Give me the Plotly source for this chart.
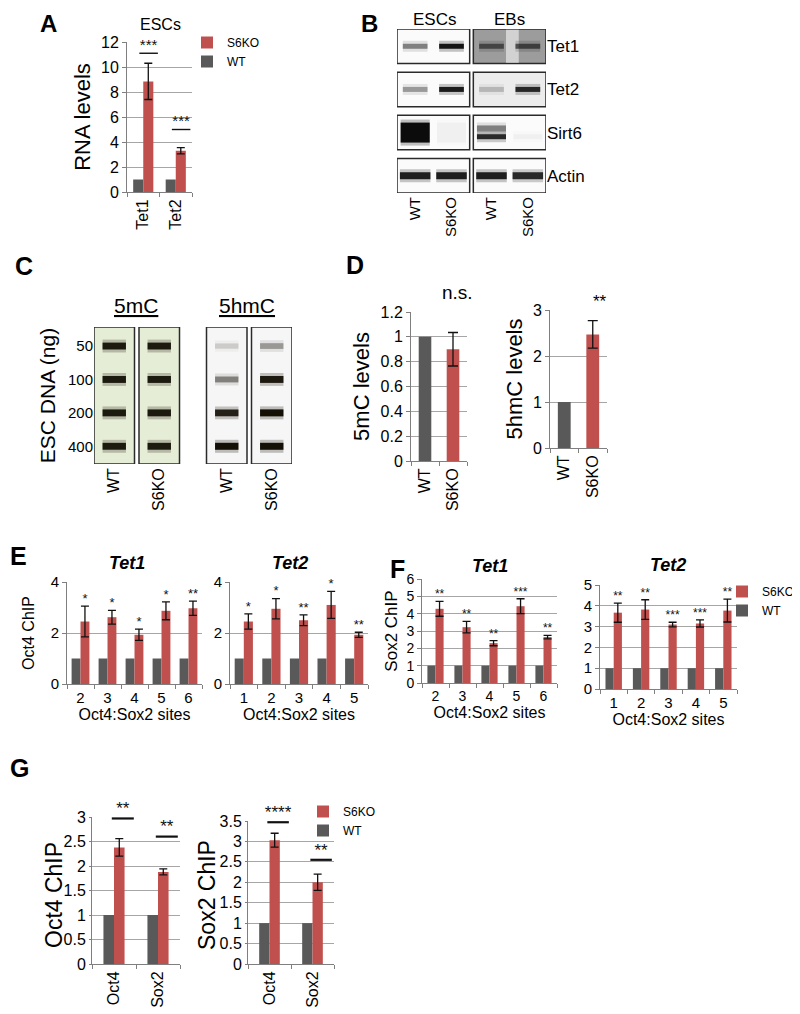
import plotly.graph_objects as go

W, H = 800, 1014
OFF = 8  # page body margin that shifts the whole figure
RED = "#c0504d"
GRAY = "#595959"
GRID = "#a6a6a6"
AXIS = "#7f7f7f"
INK = "#111111"
FONT = "Arial, Liberation Sans, sans-serif"

# ── A: Tet mRNA in ESCs ─────────────────────────────────────────
a_genes = ["Tet1", "Tet2"]
a_wt = [1, 1]
a_ko = [8.85, 3.3]
a_err = [1.45, 0.25]
a_sig = ["***", "***"]
a_sig_y = [11.1, 5.0]

# ── B: western blots (band darkness 0..1) ───────────────────────
b_groups = ["ESCs", "EBs"]
b_lanes = ["WT", "S6KO", "WT", "S6KO"]
b_proteins = ["Tet1", "Tet2", "Sirt6", "Actin"]
b_tet1 = [0.45, 0.95, 0.55, 0.6]
b_tet2 = [0.35, 0.92, 0.2, 0.85]
b_sirt6 = [1.0, 0.03, 0.85, 0.03]
b_sirt6_upper = [0.0, 0.0, 0.45, 0.0]
b_actin = [0.9, 0.9, 0.9, 0.85]

# ── C: slot blots (signal darkness 0..1) ────────────────────────
c_amount = ["50", "100", "200", "400"]
c_lanes = ["WT", "S6KO", "WT", "S6KO"]
c_5mc_wt = [0.95, 0.95, 0.95, 0.95]
c_5mc_ko = [0.95, 0.95, 0.95, 0.95]
c_5hmc_wt = [0.15, 0.45, 0.9, 1.0]
c_5hmc_ko = [0.35, 0.95, 1.0, 1.0]

# ── D: global 5mC / 5hmC ────────────────────────────────────────
d_groups = ["WT", "S6KO"]
d_5mc = [1.0, 0.9]
d_5mc_err = [0.135]
d_5hmc = [1.0, 2.47]
d_5hmc_err = [0.3]

# ── E: Oct4 ChIP at Tet promoters ───────────────────────────────
e_tet1_sites = ["2", "3", "4", "5", "6"]
e_tet1_wt = [1, 1, 1, 1, 1]
e_tet1_ko = [2.45, 2.62, 1.93, 2.87, 2.97]
e_tet1_err = [0.6, 0.27, 0.22, 0.35, 0.28]
e_tet1_sig = ["*", "*", "*", "*", "**"]
e_tet2_sites = ["1", "2", "3", "4", "5"]
e_tet2_wt = [1, 1, 1, 1, 1]
e_tet2_ko = [2.45, 2.95, 2.5, 3.1, 1.93]
e_tet2_err = [0.3, 0.4, 0.21, 0.53, 0.1]
e_tet2_sig = ["*", "*", "**", "*", "**"]

# ── F: Sox2 ChIP at Tet promoters ───────────────────────────────
f_tet1_sites = ["2", "3", "4", "5", "6"]
f_tet1_wt = [1, 1, 1, 1, 1]
f_tet1_ko = [4.28, 3.22, 2.3, 4.43, 2.65]
f_tet1_err = [0.43, 0.33, 0.15, 0.43, 0.1]
f_tet1_sig = ["**", "**", "**", "***", "**"]
f_tet2_sites = ["1", "2", "3", "4", "5"]
f_tet2_wt = [1, 1, 1, 1, 1]
f_tet2_ko = [3.67, 3.82, 3.1, 3.15, 3.77]
f_tet2_err = [0.46, 0.47, 0.11, 0.17, 0.55]
f_tet2_sig = ["**", "**", "***", "***", "**"]

# ── G: Oct4 / Sox2 occupancy ────────────────────────────────────
g_targets = ["Oct4", "Sox2"]
g_oct4_wt = [1, 1]
g_oct4_ko = [2.38, 1.88]
g_oct4_err = [0.18, 0.06]
g_oct4_sig = ["**", "**"]
g_oct4_sig_y = [2.97, 2.6]
g_sox2_wt = [1, 1]
g_sox2_ko = [3.03, 2.0]
g_sox2_err = [0.17, 0.2]
g_sox2_sig = ["****", "**"]
g_sox2_sig_y = [3.47, 2.55]

fig = go.Figure()
lay = dict(
    width=W, height=H, margin=dict(l=0, r=0, t=0, b=0, autoexpand=False),
    paper_bgcolor="white", plot_bgcolor="rgba(0,0,0,0)",
    font=dict(family=FONT, color="black", size=14),
    barmode="overlay", showlegend=True,
)
annotations = []
shapes = []


def ids(n):
    s = "" if n == 1 else str(n)
    return "x" + s, "y" + s, "xaxis" + s, "yaxis" + s


def px(x, y):
    return (x - OFF) / W, 1 - (y - OFF) / H


def dom(x0, x1, y0, y1):
    (a, d), (b, c) = px(x0, y0), px(x1, y1)
    return [a, b], [c, d]


def note(text, x, y, size, xanchor="center", yanchor="middle", **kw):
    fx, fy = px(x, y)
    annotations.append(dict(text=text, x=fx, y=fy, xref="paper", yref="paper",
                            xanchor=xanchor, yanchor=yanchor,
                            showarrow=False, font=dict(size=size), **kw))


def bar_axes(n, box, cats, yr, dtick, ytitle, tick=15, ysize=16, ystand=4,
             angle=0, xtitle=None, xsize=16, ticklen=4):
    xa, ya, xk, yk = ids(n)
    xd, yd = dom(*box)
    xaxis = dict(domain=xd, anchor=ya, range=[-0.5, len(cats) - 0.5], tickmode="array",
                 tickvals=list(range(len(cats))), ticktext=cats, tickangle=angle, ticks="",
                 showline=True, linecolor=AXIS, showgrid=False, zeroline=False,
                 tickfont=dict(size=tick),
                 minor=dict(tickmode="array", tickvals=[i - 0.5 for i in range(len(cats) + 1)],
                            ticks="outside", ticklen=4, tickcolor=AXIS))
    if xtitle:
        xaxis["title"] = dict(text=xtitle, font=dict(size=xsize), standoff=2)
    lay[xk] = xaxis
    yaxis = dict(domain=yd, anchor=xa, range=yr, tick0=0, dtick=dtick, showline=True,
                 linecolor=AXIS, ticks="outside", ticklen=ticklen, tickcolor=AXIS,
                 showgrid=True, gridcolor=GRID, gridwidth=1, zeroline=False,
                 tickfont=dict(size=tick))
    if ytitle:
        yaxis["title"] = dict(text=ytitle, font=dict(size=ysize), standoff=ystand)
    lay[yk] = yaxis
    return xa, ya


def grouped(n, cats, wt, ko, err, bw, legend=None):
    xa, ya, _, _ = ids(n)
    xs = list(range(len(cats)))
    common = dict(xaxis=xa, yaxis=ya, showlegend=legend is not None,
                  legend=legend or "legend", hoverinfo="skip")
    fig.add_trace(go.Bar(x=xs, y=wt, width=bw, offset=-bw, name="WT", legendrank=2,
                         marker=dict(color=GRAY, line=dict(width=0)), **common))
    fig.add_trace(go.Bar(x=xs, y=ko, width=bw, offset=0, name="S6KO", legendrank=1,
                         marker=dict(color=RED, line=dict(width=0)),
                         error_y=dict(type="data", array=err, color=INK, thickness=1.3, width=4),
                         **common))


def stars(n, xs, ys, labels, size):
    xa, ya, _, _ = ids(n)
    fig.add_trace(go.Scatter(x=xs, y=ys, text=labels, mode="text", textposition="top center",
                             textfont=dict(size=size, color=INK), cliponaxis=False,
                             showlegend=False, hoverinfo="skip", xaxis=xa, yaxis=ya))


def sig_bars(n, sig_y, labels, lo, hi, lw, size):
    xa, ya, _, _ = ids(n)
    lx, ly = [], []
    for i, y in enumerate(sig_y):
        lx += [i + lo, i + hi, None]
        ly += [y, y, None]
    fig.add_trace(go.Scatter(x=lx, y=ly, mode="lines", line=dict(color=INK, width=lw),
                             cliponaxis=False, showlegend=False, hoverinfo="skip",
                             xaxis=xa, yaxis=ya))
    stars(n, [i + (lo + hi) / 2 for i in range(len(sig_y))], sig_y, labels, size)


def legend_box(key, x, y, size):
    fx, fy = px(x, y)
    lay[key] = dict(x=fx, y=fy, xanchor="left", yanchor="top",
                    bgcolor="rgba(0,0,0,0)", font=dict(size=size), itemwidth=30,
                    tracegroupgap=0, traceorder="normal")


# ── panel A ─────────────────────────────────────────────────────
bar_axes(1, (127, 192, 42, 192), a_genes, [0, 12], 2, "RNA levels", tick=16, ysize=22,
         angle=-90)
grouped(1, a_genes, a_wt, a_ko, a_err, 0.31, legend="legend")
sig_bars(1, a_sig_y, a_sig, -0.12, 0.45, 1.4, 15)
legend_box("legend", 187, 28, 12)
note("ESCs", 160, 25, 16)

# ── panel D ─────────────────────────────────────────────────────
for n, box, vals, err, yr, dt, title in [
    (2, (411, 467, 312, 461), d_5mc, d_5mc_err, [0, 1.2], 0.2, "5mC levels"),
    (3, (550, 607, 310, 448), d_5hmc, d_5hmc_err, [0, 3], 1, "5hmC levels"),
]:
    xa, ya = bar_axes(n, box, d_groups, yr, dt, title, tick=16, ysize=22, angle=-90)
    fig.add_trace(go.Bar(x=[0], y=vals[:1], width=0.45, marker=dict(color=GRAY, line=dict(width=0)),
                         showlegend=False, hoverinfo="skip", xaxis=xa, yaxis=ya))
    fig.add_trace(go.Bar(x=[1], y=vals[1:], width=0.45, marker=dict(color=RED, line=dict(width=0)),
                         error_y=dict(type="data", array=err, color=INK, thickness=1.3, width=5),
                         showlegend=False, hoverinfo="skip", xaxis=xa, yaxis=ya))
note("n.s.", 457, 292, 19)
note("**", 600, 302, 17)

# ── panel E ─────────────────────────────────────────────────────
bar_axes(4, (67, 202, 582, 684), e_tet1_sites, [0, 4], 2, "Oct4 ChIP", tick=15, ysize=16,
         ystand=12, xtitle="Oct4:Sox2 sites")
grouped(4, e_tet1_sites, e_tet1_wt, e_tet1_ko, e_tet1_err, 0.33)
stars(4, [i + 0.165 for i in range(5)], [v + e for v, e in zip(e_tet1_ko, e_tet1_err)],
      e_tet1_sig, 13)
bar_axes(5, (230, 368, 582, 684), e_tet2_sites, [0, 4], 2, "", tick=15,
         xtitle="Oct4:Sox2 sites")
grouped(5, e_tet2_sites, e_tet2_wt, e_tet2_ko, e_tet2_err, 0.33)
stars(5, [i + 0.165 for i in range(5)], [v + e for v, e in zip(e_tet2_ko, e_tet2_err)],
      e_tet2_sig, 13)
note("<b><i>Tet1</i></b>", 127, 563, 18)
note("<b><i>Tet2</i></b>", 290, 563, 18)

# ── panel F ─────────────────────────────────────────────────────
bar_axes(6, (422, 557, 579, 683), f_tet1_sites, [0, 6], 1, "Sox2 ChIP", tick=14, ysize=17,
         xtitle="Oct4:Sox2 sites")
grouped(6, f_tet1_sites, f_tet1_wt, f_tet1_ko, f_tet1_err, 0.3)
stars(6, [i + 0.15 for i in range(5)], [v + e for v, e in zip(f_tet1_ko, f_tet1_err)],
      f_tet1_sig, 12)
bar_axes(7, (600, 737, 585, 689), f_tet2_sites, [0, 5], 1, "", tick=15,
         xtitle="Oct4:Sox2 sites")
grouped(7, f_tet2_sites, f_tet2_wt, f_tet2_ko, f_tet2_err, 0.3, legend="legend2")
stars(7, [i + 0.15 for i in range(5)], [v + e for v, e in zip(f_tet2_ko, f_tet2_err)],
      f_tet2_sig, 12)
legend_box("legend2", 722, 577, 12)
note("<b><i>Tet1</i></b>", 490, 566, 18)
note("<b><i>Tet2</i></b>", 668, 565, 18)

# ── panel G ─────────────────────────────────────────────────────
bar_axes(8, (92, 180, 817, 964), g_targets, [0, 3], 0.5, None, tick=16, angle=-90, ticklen=2)
grouped(8, g_targets, g_oct4_wt, g_oct4_ko, g_oct4_err, 0.24)
sig_bars(8, g_oct4_sig_y, g_oct4_sig, -0.05, 0.45, 2.2, 17)
bar_axes(9, (248, 334, 821, 964), g_targets, [0, 3.5], 0.5, None, tick=16, angle=-90, ticklen=2)
grouped(9, g_targets, g_sox2_wt, g_sox2_ko, g_sox2_err, 0.24, legend="legend3")
sig_bars(9, g_sox2_sig_y, g_sox2_sig, -0.05, 0.45, 2.2, 17)
legend_box("legend3", 303, 797, 12)
note("Oct4 ChIP", 54, 895, 23, textangle=-90)
note("Sox2 ChIP", 207, 895, 23, textangle=-90)

# ── panel B: western blots ──────────────────────────────────────
xa, ya, xk, yk = ids(10)
xd, yd = dom(397, 546, 29, 193)
b_lane_x = [(i // 2) * 2.1 + (i % 2) + 0.5 for i in range(len(b_lanes))]
b_row_y = [r * 1.25 + 0.5 for r in range(len(b_proteins))]
lay[xk] = dict(domain=xd, anchor=ya, range=[0, 4.1], tickmode="array", tickvals=b_lane_x,
               ticktext=b_lanes, tickangle=-90, ticks="", showgrid=False, zeroline=False,
               showline=False, tickfont=dict(size=15))
lay[yk] = dict(domain=yd, anchor=xa, range=[4.75, 0], side="right", tickmode="array",
               tickvals=b_row_y, ticktext=b_proteins, ticks="", showgrid=False,
               zeroline=False, showline=False, tickfont=dict(size=17))
box_fill = {(0, 1): "#9c9c9c", (1, 1): "#ececec"}
for r in range(len(b_proteins)):
    for g in range(len(b_groups)):
        shapes.append(dict(type="rect", xref=xa, yref=ya, x0=g * 2.1, x1=g * 2.1 + 2,
                           y0=r * 1.25, y1=r * 1.25 + 1, layer="below",
                           fillcolor=box_fill.get((r, g), "#fbfbfb"),
                           line=dict(color="#2a2a2a", width=1.5)))
shapes.append(dict(type="rect", xref=xa, yref=ya, x0=2.1 + 0.9, x1=2.1 + 1.25, y0=0.02, y1=0.98,
                   layer="below", fillcolor="rgba(255,255,255,0.55)", line=dict(width=0)))
b_thick = [5, 5, 20, 7]
b_half = [0.34, 0.34, 0.4, 0.42]


def band(xa, ya, xc, yc, half, thick, dark, rgb="12,12,12"):
    if dark <= 0:
        return
    for w, a in [(thick + 6, 0.25), (thick, 1.0)]:
        fig.add_trace(go.Scatter(x=[xc - half, xc + half], y=[yc, yc], mode="lines",
                                 line=dict(color=f"rgba({rgb},{dark * a:.2f})", width=w),
                                 showlegend=False, hoverinfo="skip", xaxis=xa, yaxis=ya))


for r, row in enumerate([b_tet1, b_tet2, b_sirt6, b_actin]):
    for i, v in enumerate(row):
        yc = b_row_y[r] + (0.12 if (r == 2 and i >= 2) else 0)
        band(xa, ya, b_lane_x[i], yc, b_half[r], b_thick[r] if i < 2 or r != 2 else 5, v)
for i, v in enumerate(b_sirt6_upper):
    band(xa, ya, b_lane_x[i], b_row_y[2] - 0.12, b_half[2], 6, v)
note("ESCs", 435, OFF, 17, yanchor="top")
note("EBs", 510, OFF, 17, yanchor="top")

# ── panel C: slot blots ─────────────────────────────────────────
xa, ya, xk, yk = ids(11)
xd, yd = dom(94, 292, 327, 464)
c_lane_x = [i + (0.5 if i >= 2 else 0) + 0.45 for i in range(len(c_lanes))]
c_row_y = list(range(len(c_amount)))
lay[xk] = dict(domain=xd, anchor=ya, range=[0, 4.4], tickmode="array", tickvals=c_lane_x,
               ticktext=c_lanes, tickangle=-90, ticks="", showgrid=False, zeroline=False,
               showline=False, tickfont=dict(size=16))
lay[yk] = dict(domain=yd, anchor=xa, range=[3.53, -0.57], tickmode="array", tickvals=c_row_y,
               ticktext=c_amount, ticks="", showgrid=False, zeroline=False, showline=False,
               tickfont=dict(size=15),
               title=dict(text="ESC DNA (ng)", font=dict(size=21), standoff=6))
for i, xc in enumerate(c_lane_x):
    shapes.append(dict(type="rect", xref=xa, yref=ya, x0=xc - 0.45, x1=xc + 0.45,
                       y0=-0.57, y1=3.53, layer="below",
                       fillcolor="#e6edd6" if i < 2 else "#f6f6f6",
                       line=dict(color="#2a2a2a", width=1.5)))
for i, col in enumerate([c_5mc_wt, c_5mc_ko, c_5hmc_wt, c_5hmc_ko]):
    for r, v in enumerate(col):
        band(xa, ya, c_lane_x[i], c_row_y[r], 0.26, 5 + 2 * v, v, rgb="20,16,6")
note("<u>5mC</u>", 136, 305, 21)
note("<u>5hmC</u>", 247, 305, 21)

# ── panel letters ───────────────────────────────────────────────
note("<b>A</b>", 48, OFF, 24, yanchor="top")
note("<b>B</b>", 369, OFF, 24, yanchor="top")
note("<b>C</b>", 24, 266, 25)
note("<b>D</b>", 355, 265, 25)
note("<b>E</b>", OFF, 556, 25, xanchor="left")
note("<b>F</b>", 397, 569, 25)
note("<b>G</b>", OFF, 768, 25, xanchor="left")

lay["annotations"] = annotations
lay["shapes"] = shapes
fig.update_layout(**lay)
fig.write_html("out.html")
